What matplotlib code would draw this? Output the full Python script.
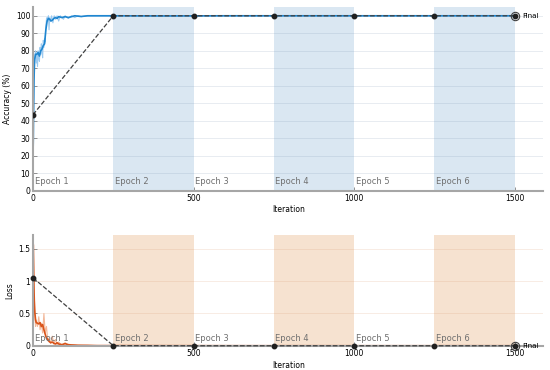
import numpy as np
import matplotlib
matplotlib.use("Agg")
from matplotlib import pyplot as plt

# --- training accuracy (smoothed + raw) ---
acc_it = [0, 1, 2, 3, 5, 8, 12, 16, 20, 24, 28, 32, 36, 40, 44, 48, 52, 56, 60, 65, 70,
          75, 80, 90, 100, 110, 120, 130, 150, 170, 200, 250, 400, 600, 800, 1000, 1200, 1500]
acc_smooth = [20, 30, 48, 63, 75, 78, 78, 79, 77, 80, 81, 83, 84, 92, 97, 98.5, 98, 97, 97.5,
              98.5, 99, 98.5, 99.5, 99, 99.5, 99, 99.5, 100, 99.6, 100, 100, 100, 99.9, 100,
              100, 100, 100, 100]
raw_it = [0, 2, 4, 6, 8, 10, 12, 14, 16, 18, 20, 22, 24, 26, 28, 30, 32, 34, 36, 38, 40, 42,
          44, 46, 48, 50, 52, 55, 58, 62, 66, 70, 75, 80, 85, 90, 95, 100, 110, 120, 130,
          140, 150, 170, 200, 250, 400, 600, 800, 1000, 1200, 1500]
acc_raw = [20, 50, 72, 78, 80, 73, 79, 71, 80, 76, 74, 82, 78, 84, 80, 76, 86, 82, 87, 85, 94,
           98, 99, 97, 100, 92, 99, 97, 100, 96, 100, 98, 100, 97, 100, 99, 98, 100, 98.5,
           100, 99, 100, 99.5, 100, 100, 100, 100, 100, 100, 100, 100, 100]

# --- training loss (smoothed + raw) ---
loss_it = [0, 1, 2, 3, 4, 6, 8, 10, 14, 18, 22, 26, 30, 34, 38, 42, 46, 50, 55, 60, 65, 70,
           75, 80, 90, 100, 110, 120, 140, 170, 200, 400, 800, 1200, 1500]
loss_smooth = [1.6, 1.55, 1.2, 0.9, 0.7, 0.5, 0.4, 0.36, 0.35, 0.34, 0.36, 0.3, 0.33, 0.25,
               0.18, 0.12, 0.1, 0.07, 0.05, 0.06, 0.04, 0.03, 0.05, 0.03, 0.02, 0.035, 0.02,
               0.015, 0.01, 0.008, 0.005, 0.004, 0.003, 0.003, 0.003]
loss_raw = [1.65, 1.6, 1.1, 0.8, 0.6, 0.45, 0.3, 0.4, 0.3, 0.45, 0.25, 0.35, 0.2, 0.5,
            0.2, 0.3, 0.08, 0.12, 0.04, 0.15, 0.03, 0.1, 0.02, 0.06, 0.01, 0.05, 0.01,
            0.02, 0.01, 0.01, 0.005, 0.004, 0.003, 0.003, 0.003]

# --- validation points (one per epoch) ---
val_it = [0, 250, 500, 750, 1000, 1250, 1500]
val_acc = [43.5, 100, 100, 100, 100, 100, 100]
val_loss = [1.05, 0.005, 0.003, 0.003, 0.003, 0.003, 0.003]

epoch_len = 250
n_epochs = 6
epoch_names = [f"Epoch {i + 1}" for i in range(n_epochs)]

blue = '#1f86d0'
blue_raw = '#9ccaf0'
orange = '#d95319'
orange_raw = '#f2b89a'
spine_col = '#a6a6a6'

fig = plt.figure(figsize=(5.5, 3.7), dpi=100)
ax1 = fig.add_axes([0.06, 0.484, 0.928, 0.497])
ax2 = fig.add_axes([0.06, 0.065, 0.928, 0.30])


def style(ax, shade, grid_col):
    for i in range(n_epochs):
        x0 = i * epoch_len
        if i % 2 == 1:
            ax.axvspan(x0, x0 + epoch_len, color=shade, lw=0, zorder=0)
        ax.text(x0 + 5, 0.025, epoch_names[i], transform=ax.get_xaxis_transform(),
                fontsize=6, color='#707070', ha='left', va='bottom', zorder=3)
    ax.set_xlim(0, 1590)
    ax.set_xticks([0, 500, 1000, 1500])
    ax.grid(axis='y', color=grid_col, alpha=0.18, linewidth=0.7)
    ax.set_axisbelow(True)
    for s in ['top', 'right']:
        ax.spines[s].set_visible(False)
    for s in ['left', 'bottom']:
        ax.spines[s].set_color(spine_col)
        ax.spines[s].set_linewidth(1.5)
    ax.tick_params(direction='in', length=3, width=0.6, color='#808080',
                   labelsize=5.5, pad=2)
    ax.set_xlabel("Iteration", fontsize=5.5, labelpad=2)


style(ax1, '#dae7f2', '#7f97b0')
style(ax2, '#f6e2d0', '#d9986a')

# accuracy
ax1.plot(raw_it, acc_raw, color=blue_raw, lw=0.8, zorder=2)
ax1.plot(acc_it, acc_smooth, color=blue, lw=1.2, zorder=2.5)
ax1.plot(val_it, val_acc, '--', color='#404040', lw=0.9, marker='o', ms=3.2,
         mfc='#202020', mec='#202020', zorder=4)
ax1.plot(val_it[-1], val_acc[-1], 'o', ms=6, mfc='none', mec='#404040', mew=0.8, zorder=4)
ax1.text(val_it[-1] + 25, val_acc[-1], "Final", fontsize=5.2, va='center', ha='left')
ax1.set_ylim(0, 105)
ax1.set_yticks(range(0, 101, 10))
ax1.set_ylabel("Accuracy (%)", fontsize=5.5, labelpad=3)

# loss
ax2.plot(loss_it, loss_raw, color=orange_raw, lw=0.8, zorder=2)
ax2.plot(loss_it, loss_smooth, color=orange, lw=1.2, zorder=2.5)
ax2.plot(val_it, val_loss, '--', color='#404040', lw=0.9, marker='o', ms=3.2,
         mfc='#202020', mec='#202020', zorder=4, clip_on=False)
ax2.plot(val_it[-1], val_loss[-1], 'o', ms=6, mfc='none', mec='#404040', mew=0.8,
         zorder=4, clip_on=False)
ax2.text(val_it[-1] + 25, val_loss[-1], "Final", fontsize=5.2, va='center', ha='left')
ax2.set_ylim(0, 1.71)
ax2.set_yticks([0, 0.5, 1, 1.5])
ax2.set_yticklabels(["0", "0.5", "1", "1.5"])
ax2.set_ylabel("Loss", fontsize=5.5, labelpad=3)

fig.savefig("out.png", dpi=100)
